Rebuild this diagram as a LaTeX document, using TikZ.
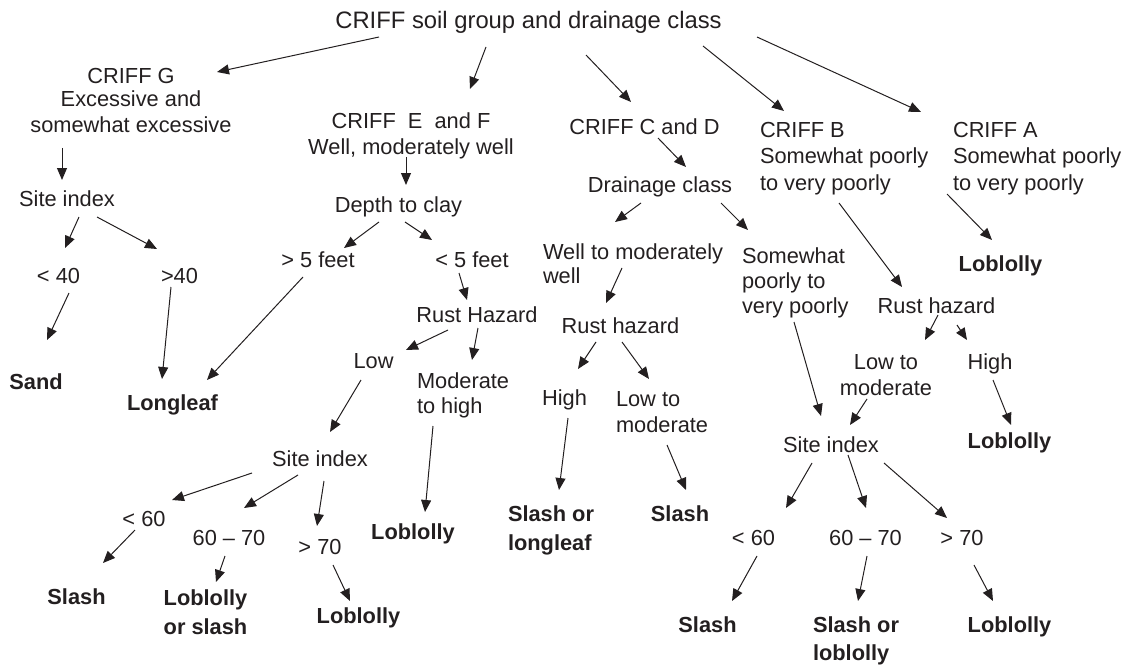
\documentclass[tikz,border=0pt]{standalone}
\usepackage{fontspec}
\setmainfont{Liberation Sans}
\usetikzlibrary{arrows.meta}
\definecolor{ink}{RGB}{35,31,32}
\tikzset{
  lbl/.style={inner sep=0pt, outer sep=0pt, text=ink, anchor=base, font=\fontsize{21.8}{26}\selectfont},
  res/.style={lbl, font=\fontsize{21.8}{29}\selectfont\bfseries},
  ttl/.style={lbl, font=\fontsize{23.8}{28}\selectfont},
  arr/.style={draw=ink, line width=1pt, -{Triangle[length=12pt,width=10pt]}},
}
\newcommand\conn[4]{\draw[arr] ([shift={(#2)}]#1) -- ([shift={(#4)}]#3);}
\begin{document}
\begin{tikzpicture}[x=1pt,y=-1pt]
\useasboundingbox (0,0) rectangle (1127,666);
% ---- nodes (base = baseline of the last line) ----
\node[ttl] (title) at (528.5,29) {CRIFF soil group and drainage class};
% G branch
\node[lbl,align=center] (criffG) at (131,133) {CRIFF G\\[-3pt]Excessive and\\somewhat excessive};
\node[lbl] (siteG) at (67,206) {Site index};
\node[lbl] (lt40) at (58.5,283) {< 40};
\node[lbl] (gt40) at (179.5,283) {>40};
\node[res] (sand) at (36,389) {Sand};
\node[res] (longleaf) at (172.5,410) {Longleaf};
% E and F branch
\node[lbl,align=center] (ef) at (411,154) {CRIFF\ \ E\ \ and F\\Well, moderately well};
\node[lbl] (depth) at (398.5,212) {Depth to clay};
\node[lbl] (gt5) at (318,267) {> 5 feet};
\node[lbl] (lt5) at (472,267) {< 5 feet};
\node[lbl] (rustE) at (477,322) {Rust Hazard};
\node[lbl] (low) at (373.5,368) {Low};
\node[lbl,align=left,anchor=base west,font=\fontsize{21.8}{25}\selectfont] (modhigh) at (417,413) {Moderate\\to high};
\node[res] (lobM) at (413,539) {Loblolly};
\node[lbl] (site2) at (320,466) {Site index};
\node[lbl] (lt60a) at (144,526) {< 60};
\node[lbl] (r6070a) at (229,545) {60 – 70};
\node[lbl] (gt70a) at (320,554) {> 70};
\node[res] (slashA) at (76.5,604) {Slash};
\node[res,align=center] (lobslash) at (205.5,634) {Loblolly\\or slash};
\node[res] (lobA) at (358.5,623) {Loblolly};
% C and D branch
\node[lbl] (cd) at (644.5,135) {CRIFF C and D};
\node[lbl] (drain) at (660,193) {Drainage class};
\node[lbl,align=left,anchor=base west,font=\fontsize{21.8}{24}\selectfont] (wellmod) at (543,283) {Well to moderately\\well};
\node[lbl,align=left,anchor=base west,font=\fontsize{21.8}{25}\selectfont] (somewhat) at (742,313) {Somewhat\\poorly to\\very poorly};
\node[lbl] (rustC) at (620.5,333) {Rust hazard};
\node[lbl] (highC) at (564.5,405) {High};
\node[lbl,align=left,anchor=base west] (lowmodC) at (616,432) {Low to\\moderate};
\node[res,align=left,anchor=base west] (slashlong) at (508,550) {Slash or\\longleaf};
\node[res] (slashC) at (680,521) {Slash};
% B branch
\node[lbl,align=left,anchor=base west,font=\fontsize{21.8}{26.5}\selectfont] (criffB) at (760,190) {CRIFF B\\Somewhat poorly\\to very poorly};
\node[lbl] (rustB) at (936.5,313) {Rust hazard};
\node[lbl,align=center] (lowmodB) at (886,395) {Low to\\moderate};
\node[lbl] (highB) at (990,369) {High};
\node[res] (lobB1) at (1009.5,448) {Loblolly};
\node[lbl] (siteB) at (831,452) {Site index};
\node[lbl] (lt60b) at (753.5,545) {< 60};
\node[lbl] (r6070b) at (865.5,545) {60 – 70};
\node[lbl] (gt70b) at (962,545) {> 70};
\node[res] (slashB) at (707.5,632) {Slash};
\node[res,align=left,anchor=base west,font=\fontsize{21.8}{28}\selectfont\bfseries] (slashlob) at (813,660) {Slash or\\loblolly};
\node[res] (lobB2) at (1009.5,632) {Loblolly};
% A branch
\node[lbl,align=left,anchor=base west,font=\fontsize{21.8}{26.5}\selectfont] (criffA) at (953,190) {CRIFF A\\Somewhat poorly\\to very poorly};
\node[res] (lobAA) at (1000.5,271) {Loblolly};
% ---- connectors ----
\conn{title.base}{-149.5,8}{criffG.base}{86,-61}
\conn{title.base}{-42.5,18}{ef.base}{59,-65}
\conn{title.base}{57.5,26}{cd.base}{-13.5,-33}
\conn{title.base}{174.5,17}{criffB.base west}{24,-79}
\conn{title.base}{228.5,8}{criffA.base west}{-32,-78}
% G
\conn{criffG.base}{-69,15}{siteG.base}{-5,-26}
\conn{siteG.base}{12,11}{lt40.base}{6.5,-35}
\conn{siteG.base}{30,11}{gt40.base}{-22.5,-34}
\conn{lt40.base}{10.5,10}{sand.base}{11,-49}
\conn{gt40.base}{-8.5,4}{longleaf.base}{-10.5,-31}
% E and F
\conn{ef.base}{-5,3}{depth.base}{7.5,-27}
\conn{depth.base}{-19.5,10}{gt5.base}{26,-19}
\conn{depth.base}{6.5,10}{lt5.base}{-40,-27}
\conn{gt5.base}{-15,10}{longleaf.base}{34.5,-30}
\conn{lt5.base}{-13,6}{rustE.base}{-10,-22}
\conn{rustE.base}{-29,8}{low.base}{32.5,-18}
\conn{rustE.base}{1,6}{modhigh.base west}{55,-53}
\conn{low.base}{-12.5,12}{site2.base}{10,-34}
\conn{modhigh.base west}{16,13}{lobM.base}{12,-27}
\conn{site2.base}{-68,7}{lt60a.base}{28,-26}
\conn{site2.base}{-22,9}{r6070a.base}{15,-37}
\conn{site2.base}{4,15}{gt70a.base}{-3,-28}
\conn{lt60a.base}{-9,4}{slashA.base}{26.5,-41}
\conn{r6070a.base}{-4,11}{lobslash.base}{10.5,-52}
\conn{gt70a.base}{13,11}{lobA.base}{-8.5,-22}
% C and D
\conn{cd.base}{13.5,3}{drain.base}{26,-26}
\conn{drain.base}{-19,10}{wellmod.base west}{72,-61}
\conn{drain.base}{61,10}{somewhat.base west}{6,-83}
\conn{wellmod.base west}{79,-15}{rustC.base}{-14.5,-30}
\conn{rustC.base}{-24.5,9}{highC.base}{13.5,-36}
\conn{rustC.base}{1.5,9}{lowmodC.base west}{33,-53}
\conn{highC.base}{3.5,13}{slashlong.base west}{51,-60}
\conn{lowmodC.base west}{51,13}{slashC.base}{6,-31}
\conn{somewhat.base west}{52,9}{siteB.base}{-10,-36}
% B
\conn{criffB.base west}{79,13}{rustB.base}{-34.5,-26}
\conn{rustB.base}{1.5,2}{lowmodB.base}{39,-55}
\conn{rustB.base}{20.5,12}{highB.base}{-23,-29}
\conn{lowmodB.base}{-19,4}{siteB.base}{19,-27}
\conn{highB.base}{3,11}{lobB1.base}{1.5,-23}
\conn{siteB.base}{-19,11}{lt60b.base}{32.5,-37}
\conn{siteB.base}{17,3}{r6070b.base}{0.5,-37}
\conn{siteB.base}{53,11}{gt70b.base}{-15,-27}
\conn{lt60b.base}{3.5,11}{slashB.base}{24.5,-31}
\conn{r6070b.base}{1.5,11}{slashlob.base west}{45,-59}
\conn{gt70b.base}{12,20}{lobB2.base}{-16.5,-31}
% A
\conn{criffA.base west}{-6,4}{lobAA.base}{-8.5,-31}
\end{tikzpicture}
\end{document}
